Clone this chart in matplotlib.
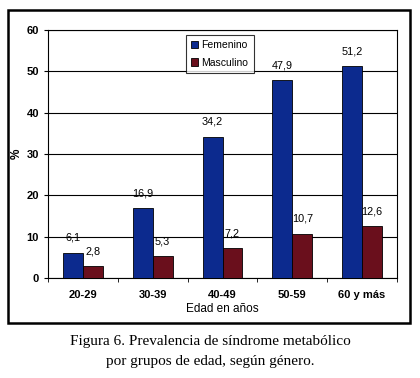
import matplotlib
matplotlib.use("Agg")
import matplotlib.pyplot as plt
import numpy as np
from matplotlib.patches import Rectangle

categories = ["20-29", "30-39", "40-49", "50-59", "60 y más"]
femenino = [6.1, 16.9, 34.2, 47.9, 51.2]
masculino = [2.8, 5.3, 7.2, 10.7, 12.6]
labels_f = ["6,1", "16,9", "34,2", "47,9", "51,2"]
labels_m = ["2,8", "5,3", "7,2", "10,7", "12,6"]

plt.rcParams['font.family'] = ['Liberation Sans', 'DejaVu Sans']

fig = plt.figure(figsize=(4.2, 3.78), dpi=100)
ax = fig.add_axes([48/420, 100/378, 349/420, 248/378])

x = np.arange(len(categories))
w = 0.286
ax.bar(x - w/2, femenino, w, color="#0c2a8e", edgecolor="black", linewidth=0.6, label="Femenino", zorder=3)
ax.bar(x + w/2, masculino, w, color="#6a0f1c", edgecolor="black", linewidth=0.6, label="Masculino", zorder=3)

for xi, v, t in zip(x - w/2, femenino, labels_f):
    ax.text(xi, v + 2.4, t, ha="center", va="bottom", fontsize=7.8)
for xi, v, t in zip(x + w/2, masculino, labels_m):
    ax.text(xi, v + 2.4, t, ha="center", va="bottom", fontsize=7.8)

ax.set_xlim(-0.5, len(categories) - 0.5)
ax.set_ylim(0, 60)
ax.set_yticks(range(0, 61, 10))
ax.yaxis.grid(True, color="black", linewidth=0.8, zorder=0)
ax.set_axisbelow(True)

ax.set_xticks(x)
ax.set_xticklabels(categories, fontsize=8, fontweight="bold")
ax.tick_params(axis="x", length=0, pad=9)
ax.set_xticks(np.arange(len(categories) + 1) - 0.5, minor=True)
ax.tick_params(axis="x", which="minor", length=3, direction="out")
ax.tick_params(axis="y", labelsize=8, length=3, direction="out")
for lab in ax.get_yticklabels():
    lab.set_fontweight("bold")

for s in ax.spines.values():
    s.set_linewidth(0.8)

ax.set_xlabel("Edad en años", fontsize=8.5, labelpad=2)
ax.set_ylabel("%", fontsize=8.5, fontweight="bold", labelpad=3)

leg = ax.legend(loc="upper left", bbox_to_anchor=(0.38, 1.0), fontsize=7.5,
                frameon=True, fancybox=False, edgecolor="black",
                handlelength=0.7, handleheight=0.7, handletextpad=0.3,
                borderpad=0.5, labelspacing=0.7)
leg.get_frame().set_linewidth(0.8)

fig.patches.append(Rectangle((8/420, 55/378), 402/420, 313/378, transform=fig.transFigure,
                             fill=False, edgecolor="black", linewidth=1.8))

fig.text(0.5, 1 - 342/378, "Figura 6. Prevalencia de síndrome metabólico",
         ha="center", va="center", fontsize=11, family=["Liberation Serif", "DejaVu Serif"])
fig.text(0.5, 1 - 362/378, "por grupos de edad, según género.",
         ha="center", va="center", fontsize=11, family=["Liberation Serif", "DejaVu Serif"])

fig.savefig("out.png", dpi=100)
